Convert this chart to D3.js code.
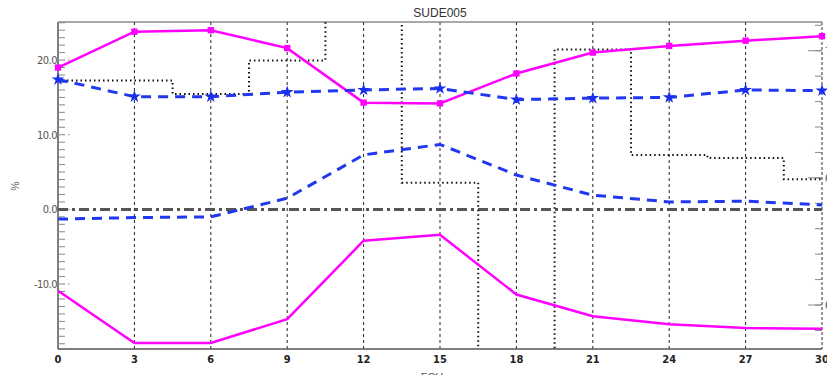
<!DOCTYPE html>
<html><head><meta charset="utf-8">
<script src="https://cdn.jsdelivr.net/npm/d3@7"></script>
<style>
html,body{margin:0;padding:0;background:#fff;overflow:hidden}
svg{display:block}
</style></head>
<body>
<svg id="chart" width="827" height="375"></svg>
<script>
const hours = [0,3,6,9,12,15,18,21,24,27,30];
const magentaTop = [19.0,23.8,24.0,21.6,14.3,14.2,18.2,21.0,21.9,22.6,23.2];
const blueTop = [17.4,15.1,15.1,15.7,16.0,16.2,14.7,14.9,15.0,16.0,15.9];
const blueLow = [-1.3,-1.1,-1.0,1.5,7.3,8.7,4.6,1.9,1.0,1.1,0.6];
const magentaLow = [-10.9,-17.9,-17.9,-14.7,-4.2,-3.4,-11.4,-14.3,-15.4,-15.9,-16.0];
const stepRight = [68.83,68.83,68.3,69.62,71.3,64.81,58.1,70.05,65.9,65.78,64.95];
const xTicks = [0,3,6,9,12,15,18,21,24,27,30];
const yMajor = [-10,0,10,20];
const yRightMajor = [60,65,70];
const title = "SUDE005";
const yLabel = "%";
const xLabel = "FCH";

const svg = d3.select("#chart");
const L=58,R=822,T=22,B=349;
const x = d3.scaleLinear().domain([0,30]).range([L,R]);
const y = d3.scaleLinear().domain([-18.7,25.1]).range([B,T]);
const yR = d3.scaleLinear().domain([58.27,71.13]).range([B,T]);

svg.append("defs").append("clipPath").attr("id","c")
  .append("rect").attr("x",L).attr("y",T).attr("width",R-L).attr("height",B-T);

// vertical grid
svg.append("g").selectAll("line").data(xTicks.filter(d=>d>0&&d<30)).join("line")
  .attr("x1",d=>x(d)).attr("x2",d=>x(d)).attr("y1",T).attr("y2",B)
  .attr("stroke","#222").attr("stroke-width",1).attr("stroke-dasharray","3,3");

// frame
svg.append("line").attr("x1",L).attr("x2",R).attr("y1",T).attr("y2",T).attr("stroke","#555").attr("stroke-width",1.2);
svg.append("line").attr("x1",L).attr("x2",R).attr("y1",B).attr("y2",B).attr("stroke","#555").attr("stroke-width",1.5);
svg.append("line").attr("x1",L).attr("x2",L).attr("y1",T).attr("y2",B).attr("stroke","#555").attr("stroke-width",1.5);
svg.append("line").attr("x1",R).attr("x2",R).attr("y1",T).attr("y2",B).attr("stroke","#333").attr("stroke-width",1).attr("stroke-dasharray","3,2");

// left minor ticks
const minor = d3.range(-18,26,1);
svg.append("g").selectAll("line").data(minor).join("line")
  .attr("x1",L).attr("x2",L+7).attr("y1",d=>y(d)).attr("y2",d=>y(d))
  .attr("stroke","#888").attr("stroke-width",1);
svg.append("g").selectAll("line").data(yMajor).join("line")
  .attr("x1",L).attr("x2",L+14).attr("y1",d=>y(d)).attr("y2",d=>y(d))
  .attr("stroke","#aaa").attr("stroke-width",1).attr("stroke-dasharray","2,3");
svg.append("g").selectAll("text").data(yMajor).join("text")
  .attr("x",L-1).attr("y",d=>y(d)).attr("dy","0.35em").attr("text-anchor","end")
  .attr("font-family","'Liberation Sans Narrow','DejaVu Sans Condensed',sans-serif")
  .attr("font-size",11).attr("fill","#555").attr("letter-spacing","-0.5")
  .text(d=>d.toFixed(1));

// right ticks
const rMinor = d3.range(59,72,1);
svg.append("g").selectAll("line").data(rMinor).join("line")
  .attr("x1",R-7).attr("x2",R).attr("y1",d=>yR(d)).attr("y2",d=>yR(d))
  .attr("stroke","#888").attr("stroke-width",1);
svg.append("g").selectAll("line").data(yRightMajor).join("line")
  .attr("x1",R-14).attr("x2",R).attr("y1",d=>yR(d)).attr("y2",d=>yR(d))
  .attr("stroke","#888").attr("stroke-width",1);
svg.append("g").selectAll("text").data(yRightMajor).join("text")
  .attr("x",R+3).attr("y",d=>yR(d)).attr("dy","0.35em").attr("text-anchor","start")
  .attr("font-family","'Liberation Sans Narrow',sans-serif")
  .attr("font-size",11).attr("fill","#555")
  .text(d=>d);

// x tick labels
svg.append("g").selectAll("text").data(xTicks).join("text")
  .attr("x",d=>x(d)).attr("y",363).attr("text-anchor","middle")
  .attr("font-family","'Liberation Sans Narrow','DejaVu Sans Condensed',sans-serif")
  .attr("font-weight","bold").attr("font-size",11).attr("fill","#222")
  .text(d=>d);

// title & labels
svg.append("text").attr("x",440).attr("y",17).attr("text-anchor","middle")
  .attr("font-family","'Liberation Sans',Arial,sans-serif").attr("font-size",12).attr("fill","#333").text(title);
svg.append("text").attr("transform","translate(19,186) rotate(-90)").attr("text-anchor","middle")
  .attr("font-family","'Liberation Sans',Arial,sans-serif").attr("font-size",10).attr("fill","#666").text(yLabel);
svg.append("text").attr("x",432).attr("y",381).attr("text-anchor","middle")
  .attr("font-family","'Liberation Sans',Arial,sans-serif").attr("font-size",11).attr("fill","#555").text(xLabel);

const plot = svg.append("g").attr("clip-path","url(#c)");

// zero dash-dot line
plot.append("line").attr("x1",L).attr("x2",R).attr("y1",y(0)).attr("y2",y(0))
  .attr("stroke","#555").attr("stroke-width",3).attr("stroke-dasharray","10,4,3,4");

// step dotted (right axis)
const stepLine = d3.line().x((d,i)=>x(hours[i])).y(d=>yR(d)).curve(d3.curveStep);
plot.append("path").datum(stepRight).attr("d",stepLine)
  .attr("fill","none").attr("stroke","#111").attr("stroke-width",2).attr("stroke-dasharray","1.5,3");

const line = d3.line().x((d,i)=>x(hours[i])).y(d=>y(d));
plot.append("path").datum(magentaLow).attr("d",line).attr("fill","none").attr("stroke","#ff00ff").attr("stroke-width",2.5);
plot.append("path").datum(blueLow).attr("d",line).attr("fill","none").attr("stroke","#2238f0").attr("stroke-width",3).attr("stroke-dasharray","10,7");
plot.append("path").datum(magentaTop).attr("d",line).attr("fill","none").attr("stroke","#ff00ff").attr("stroke-width",2.5);
plot.append("path").datum(blueTop).attr("d",line).attr("fill","none").attr("stroke","#2238f0").attr("stroke-width",3).attr("stroke-dasharray","10,7");

// markers
const star = d3.symbol().type(d3.symbolStar).size(50);
svg.append("g").selectAll("path").data(blueTop).join("path")
  .attr("transform",(d,i)=>`translate(${x(hours[i])},${y(d)})`).attr("d",star).attr("fill","#1a2ef0");
const sq = d3.symbol().type(d3.symbolSquare).size(40);
const cross = d3.symbol().type(d3.symbolTimes).size(90);
const mg = svg.append("g");
mg.selectAll("path.s").data(magentaTop).join("path").attr("class","s")
  .attr("transform",(d,i)=>`translate(${x(hours[i])},${y(d)})`).attr("d",sq).attr("fill","#ff00ff");
mg.selectAll("path.c").data(magentaTop).join("path").attr("class","c")
  .attr("transform",(d,i)=>`translate(${x(hours[i])},${y(d)})`).attr("d",cross).attr("fill","#ff00ff");
</script>
</body></html>
